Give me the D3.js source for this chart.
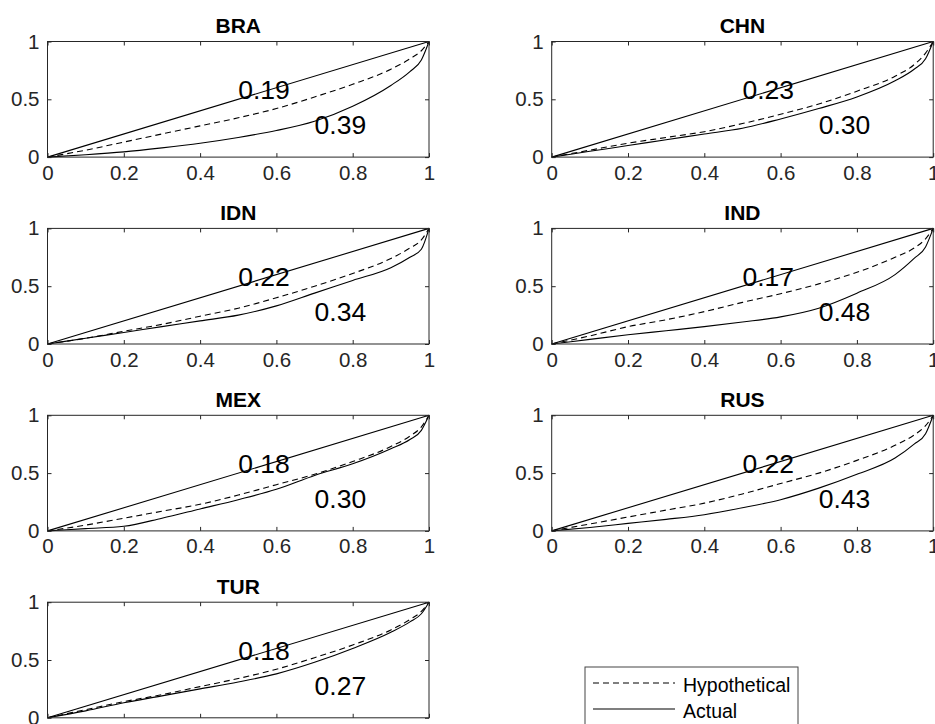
<!DOCTYPE html>
<html>
<head>
<meta charset="utf-8">
<script src="https://cdn.jsdelivr.net/npm/d3@7"></script>
<style>
  html, body { margin: 0; padding: 0; background: #fff; }
  svg { display: block; }
  text { font-family: "Liberation Sans", Arial, Helvetica, sans-serif; }
</style>
</head>
<body>
<svg id="chart" width="935" height="724"></svg>
<script>
// ---- data ----
const countries = ["BRA", "CHN", "IDN", "IND", "MEX", "RUS", "TUR"];
const popShare = [0, 0.1, 0.2, 0.3, 0.4, 0.5, 0.6, 0.7, 0.8, 0.9, 0.95, 0.98, 1];
const equalityX = [0, 1];
const equalityY = [0, 1];

const hypBRA = [0, 0.06, 0.13, 0.20, 0.27, 0.34, 0.42, 0.52, 0.63, 0.76, 0.85, 0.92, 1];
const actBRA = [0, 0.02, 0.045, 0.08, 0.12, 0.17, 0.23, 0.31, 0.44, 0.62, 0.74, 0.84, 1];
const hypCHN = [0, 0.06, 0.12, 0.17, 0.22, 0.29, 0.37, 0.46, 0.57, 0.70, 0.80, 0.90, 1];
const actCHN = [0, 0.05, 0.10, 0.15, 0.20, 0.25, 0.33, 0.42, 0.52, 0.66, 0.76, 0.85, 1];
const hypIDN = [0, 0.05, 0.11, 0.17, 0.24, 0.31, 0.40, 0.50, 0.61, 0.74, 0.83, 0.90, 1];
const actIDN = [0, 0.05, 0.10, 0.15, 0.20, 0.25, 0.33, 0.44, 0.55, 0.66, 0.75, 0.82, 1];
const hypIND = [0, 0.07, 0.15, 0.21, 0.28, 0.36, 0.435, 0.52, 0.62, 0.75, 0.83, 0.91, 1];
const actIND = [0, 0.04, 0.08, 0.115, 0.15, 0.19, 0.235, 0.31, 0.44, 0.60, 0.74, 0.84, 1];
const hypMEX = [0, 0.05, 0.11, 0.17, 0.23, 0.31, 0.40, 0.49, 0.60, 0.73, 0.82, 0.90, 1];
const actMEX = [0, 0.02, 0.04, 0.11, 0.19, 0.27, 0.36, 0.48, 0.58, 0.71, 0.79, 0.87, 1];
const hypRUS = [0, 0.06, 0.12, 0.18, 0.24, 0.32, 0.41, 0.50, 0.61, 0.74, 0.83, 0.91, 1];
const actRUS = [0, 0.03, 0.065, 0.10, 0.14, 0.20, 0.27, 0.37, 0.49, 0.63, 0.75, 0.84, 1];
const hypTUR = [0, 0.07, 0.14, 0.20, 0.27, 0.34, 0.42, 0.52, 0.63, 0.76, 0.85, 0.92, 1];
const actTUR = [0, 0.06, 0.13, 0.19, 0.25, 0.31, 0.38, 0.48, 0.60, 0.74, 0.83, 0.90, 1];

const hypLabels = ["0.19", "0.23", "0.22", "0.17", "0.18", "0.22", "0.18"];
const actLabels = ["0.39", "0.30", "0.34", "0.48", "0.30", "0.43", "0.27"];

const xTicks = [0, 0.2, 0.4, 0.6, 0.8, 1];
const yTicks = [0, 0.5, 1];
const legendLabels = ["Hypothetical", "Actual"];

const hypSeries = [hypBRA, hypCHN, hypIDN, hypIND, hypMEX, hypRUS, hypTUR];
const actSeries = [actBRA, actCHN, actIDN, actIND, actMEX, actRUS, actTUR];

// ---- layout ----
const svg = d3.select("#chart");
const colX = [47.5, 551.7];
const rowY0 = 41.5, rowStep = 186.9;
const pw = 381.5, ph = 115.6;
const axisColor = "#262626";
const tickFont = 20.5;

countries.forEach((c, i) => {
  const col = i % 2, row = Math.floor(i / 2);
  const left = colX[col], top = rowY0 + row * rowStep;
  const x = d3.scaleLinear().domain([0, 1]).range([0, pw]);
  const y = d3.scaleLinear().domain([0, 1]).range([ph, 0]);
  const g = svg.append("g").attr("transform", `translate(${left},${top})`);

  // data lines
  const pts = (xs, ys) => xs.map((v, k) => [v, ys[k]]);
  const line = d3.line().x(d => x(d[0])).y(d => y(d[1]));
  const smooth = d3.line().x(d => x(d[0])).y(d => y(d[1])).curve(d3.curveMonotoneX);

  g.append("path").attr("d", line(pts(equalityX, equalityY)))
    .attr("fill", "none").attr("stroke", "#000").attr("stroke-width", 1.1);
  g.append("path").attr("d", smooth(pts(popShare, hypSeries[i])))
    .attr("fill", "none").attr("stroke", "#000").attr("stroke-width", 1.1)
    .attr("stroke-dasharray", "6,4");
  g.append("path").attr("d", smooth(pts(popShare, actSeries[i])))
    .attr("fill", "none").attr("stroke", "#000").attr("stroke-width", 1.1);

  // axes with inward ticks
  const xb = d3.axisBottom(x).tickValues(xTicks).tickSize(-4).tickPadding(8)
    .tickFormat(d3.format("~g"));
  const xt = d3.axisTop(x).tickValues(xTicks).tickSize(-4).tickFormat("");
  const yl = d3.axisLeft(y).tickValues(yTicks).tickSize(-4).tickPadding(8)
    .tickFormat(d3.format("~g"));
  const yr = d3.axisRight(y).tickValues(yTicks).tickSize(-4).tickFormat("");

  const styleAxis = sel => {
    sel.select(".domain").remove();
    sel.selectAll("line").attr("stroke", axisColor).attr("stroke-width", 1);
    sel.selectAll("text").attr("fill", axisColor).style("font-size", tickFont + "px")
      .style("font-family", '"Liberation Sans", Arial, sans-serif');
  };
  g.append("g").attr("transform", `translate(0,${ph})`).call(xb).call(styleAxis);
  g.append("g").call(xt).call(styleAxis);
  g.append("g").call(yl).call(styleAxis);
  g.append("g").attr("transform", `translate(${pw},0)`).call(yr).call(styleAxis);

  g.append("rect").attr("x", 0).attr("y", 0).attr("width", pw).attr("height", ph)
    .attr("fill", "none").attr("stroke", axisColor).attr("stroke-width", 1);

  // title
  g.append("text").attr("x", pw / 2).attr("y", -8.5).attr("text-anchor", "middle")
    .style("font-size", "21px").style("font-weight", "bold").attr("fill", "#000").text(c);

  // annotations
  g.append("text").attr("x", x(0.5)).attr("y", y(0.5))
    .style("font-size", "26.5px").attr("fill", "#000").text(hypLabels[i]);
  g.append("text").attr("x", x(0.7)).attr("y", y(0.2))
    .style("font-size", "26.5px").attr("fill", "#000").text(actLabels[i]);
});

// ---- legend ----
const lg = svg.append("g").attr("transform", "translate(585,667)");
lg.append("rect").attr("x", 0).attr("y", 0).attr("width", 213).attr("height", 70)
  .attr("fill", "#fff").attr("stroke", "#444").attr("stroke-width", 1);
legendLabels.forEach((lab, k) => {
  const yy = 16 + k * 26;
  lg.append("line").attr("x1", 8).attr("x2", 90).attr("y1", yy).attr("y2", yy)
    .attr("stroke", "#000").attr("stroke-width", 1.1)
    .attr("stroke-dasharray", k === 0 ? "6,4" : null);
  lg.append("text").attr("x", 98).attr("y", yy + 9).style("font-size", "19.5px")
    .attr("fill", "#000").text(lab);
});
</script>
</body>
</html>
